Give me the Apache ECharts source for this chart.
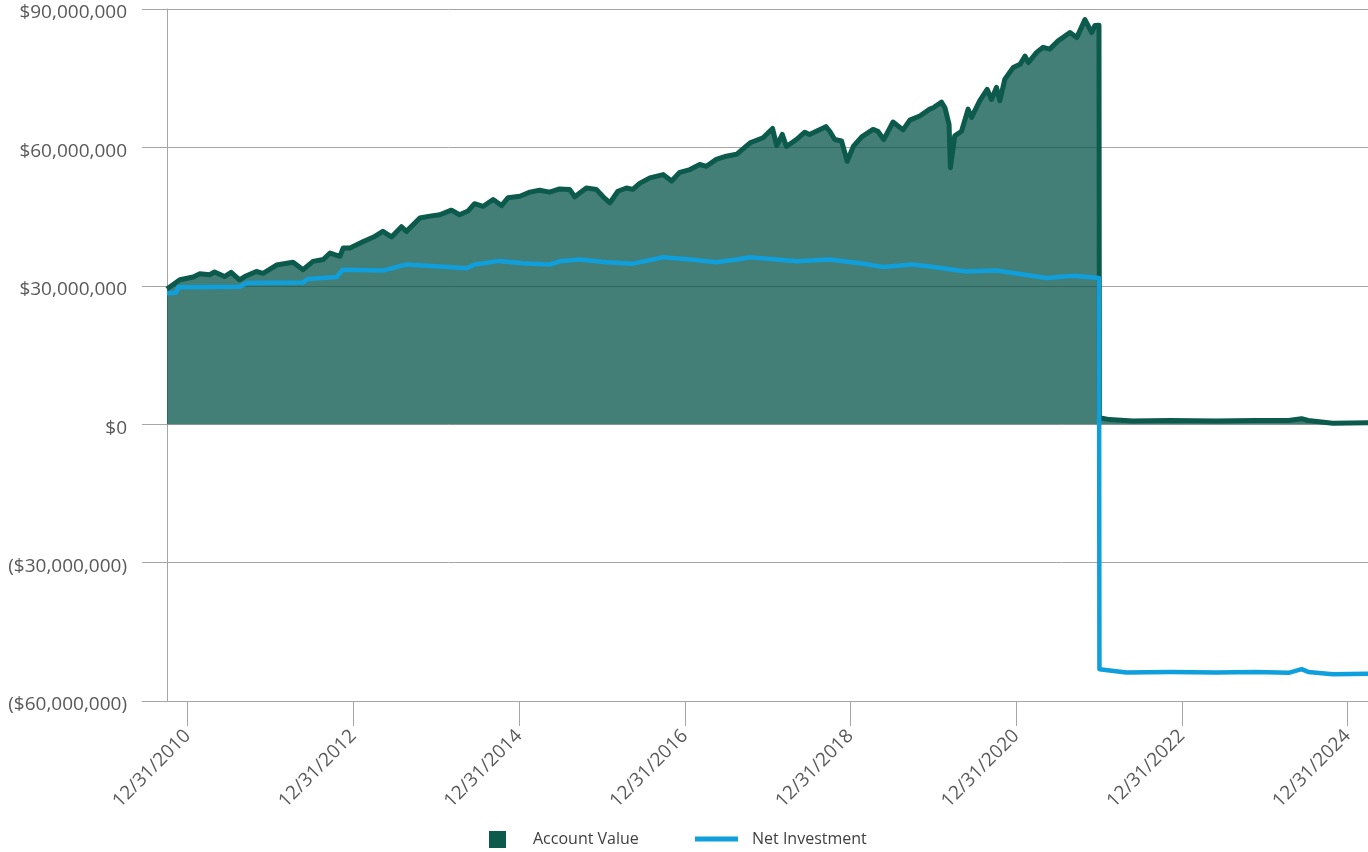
<!DOCTYPE html>
<html><head><meta charset="utf-8">
<script src="https://cdn.jsdelivr.net/npm/echarts@6/dist/echarts.min.js"></script>
<style>html,body{margin:0;padding:0;background:#fff}#c{width:1368px;height:852px}</style>
</head><body><div id="c"></div>
<script>
// Account Value (millions USD)
const accountDates = ['2010-10-01','2010-11-27','2011-01-25','2011-02-23','2011-04-07','2011-04-29','2011-06-12','2011-07-11','2011-08-17','2011-09-09','2011-10-30','2011-11-29','2012-01-27','2012-04-09','2012-05-23','2012-07-06','2012-08-20','2012-09-19','2012-11-02','2012-11-16','2012-12-16','2013-02-13','2013-04-04','2013-05-10','2013-06-17','2013-07-31','2013-08-22','2013-10-20','2013-12-03','2014-01-16','2014-03-08','2014-04-13','2014-05-20','2014-06-18','2014-07-25','2014-09-08','2014-10-15','2014-11-13','2015-01-04','2015-02-17','2015-04-01','2015-05-15','2015-06-28','2015-08-11','2015-09-03','2015-10-24','2015-12-07','2016-01-06','2016-02-05','2016-03-11','2016-04-18','2016-05-16','2016-06-15','2016-07-30','2016-09-27','2016-11-03','2016-12-09','2017-01-23','2017-03-07','2017-04-05','2017-05-19','2017-07-02','2017-08-16','2017-10-15','2017-12-11','2018-01-22','2018-02-09','2018-03-06','2018-03-24','2018-05-07','2018-06-13','2018-07-04','2018-08-03','2018-09-14','2018-10-01','2018-10-23','2018-11-22','2018-12-17','2019-01-13','2019-02-19','2019-04-10','2019-05-01','2019-05-27','2019-07-07','2019-08-20','2019-09-19','2019-11-02','2019-12-16','2019-12-31','2020-02-06','2020-02-21','2020-03-10','2020-03-16','2020-04-04','2020-05-04','2020-06-02','2020-06-17','2020-07-23','2020-08-25','2020-09-13','2020-10-05','2020-10-20','2020-11-11','2020-12-18','2021-01-17','2021-02-08','2021-02-23','2021-03-31','2021-04-29','2021-05-28','2021-07-04','2021-08-25','2021-09-24','2021-10-30','2021-11-29','2021-12-13','2021-12-31','2022-01-02','2022-02-15','2022-05-28','2022-11-10','2023-05-31','2023-11-20','2024-04-15','2024-06-11','2024-07-10','2024-10-27','2025-03-31'];
const accountValues = [29.3,31.3,31.9,32.6,32.4,33.0,32.0,32.9,31.3,32.0,33.1,32.7,34.5,35.1,33.5,35.3,35.7,37.1,36.4,38.2,38.2,39.6,40.7,41.8,40.6,42.8,41.8,44.7,45.1,45.4,46.4,45.4,46.2,47.8,47.2,48.7,47.4,49.1,49.4,50.3,50.7,50.3,51.0,50.9,49.3,51.2,50.9,49.3,48.0,50.5,51.2,50.9,52.2,53.4,54.1,52.7,54.6,55.2,56.3,55.9,57.4,58.1,58.5,61.0,62.1,64.1,60.4,62.8,60.2,61.7,63.3,62.8,63.5,64.5,63.5,61.7,61.4,57.0,60.2,62.3,63.9,63.5,61.7,65.5,63.8,65.9,66.8,68.3,68.6,69.8,68.6,65.0,55.6,62.5,63.5,68.3,66.5,70.1,72.6,70.4,73.0,70.1,74.8,77.3,78.0,79.8,78.4,80.6,81.7,81.3,83.1,84.9,83.8,87.7,84.9,86.4,86.5,1.4,1.0,0.7,0.8,0.7,0.8,0.8,1.2,0.8,0.2,0.3];

// Net Investment (millions USD)
const netDates = ['2010-10-01','2010-11-10','2010-11-20','2011-08-17','2011-09-17','2012-05-23','2012-06-14','2012-10-18','2012-11-14','2013-05-10','2013-08-19','2014-01-16','2014-05-15','2014-06-18','2014-10-08','2015-01-12','2015-05-15','2015-06-28','2015-09-25','2016-01-21','2016-05-16','2016-09-27','2017-01-23','2017-05-19','2017-08-31','2017-10-15','2018-05-07','2018-10-01','2019-02-26','2019-05-23','2019-09-25','2019-12-16','2020-05-25','2020-10-05','2021-05-13','2021-09-11','2021-12-31','2022-01-02','2022-04-30','2022-11-10','2023-05-31','2023-11-20','2024-04-15','2024-06-11','2024-07-10','2024-10-27','2025-03-31'];
const netValues = [28.4,28.5,29.7,29.8,30.6,30.7,31.5,31.9,33.5,33.3,34.6,34.2,33.8,34.6,35.4,34.9,34.6,35.3,35.7,35.1,34.8,36.2,35.7,35.1,35.8,36.2,35.3,35.7,34.8,34.1,34.6,34.2,33.1,33.3,31.7,32.2,31.7,-53.1,-53.8,-53.7,-53.8,-53.7,-53.9,-53.1,-53.7,-54.2,-54.1];

const xTickDates = ['2010-12-31','2012-12-31','2014-12-31','2016-12-31','2018-12-31','2020-12-31','2022-12-31','2024-12-31'];
const xTickLabels = ['12/31/2010','12/31/2012','12/31/2014','12/31/2016','12/31/2018','12/31/2020','12/31/2022','12/31/2024'];
const yMin = -60, yMax = 90, yStep = 30;
const startDate = '2010-10-01', endDate = '2025-03-31';

const toTs = d => Date.UTC(+d.slice(0, 4), +d.slice(5, 7) - 1, +d.slice(8, 10));
const toDay = d => Math.round((toTs(d) - toTs(startDate)) / 86400000);
const xTickDays = xTickDates.map(toDay);
const endDay = toDay(endDate);
const fmtMoney = v => {
  const s = Math.round(Math.abs(v) * 1e6).toString().replace(/\B(?=(\d{3})+(?!\d))/g, ',');
  return v < 0 ? '($' + s + ')' : '$' + s;
};
const gray = '#a6a6a6';
const font = '"Open Sans", "Noto Sans", sans-serif';

const chart = echarts.init(document.getElementById('c'), null, {renderer: 'canvas'});
chart.setOption({
  animation: false,
  backgroundColor: '#fff',
  grid: {left: 142, right: 0, top: 9, bottom: 151, containLabel: false, outerBoundsMode: 'none'},
  xAxis: {
    type: 'value',
    min: -Math.round(endDay * 25 / 1201),
    max: endDay,
    axisLine: {show: true, onZero: false, lineStyle: {color: gray, width: 1}},
    axisTick: {show: true, length: 25, customValues: xTickDays, lineStyle: {color: gray, width: 1}},
    splitLine: {show: false},
    axisLabel: {
      customValues: xTickDays,
      rotate: 45, margin: 32, fontSize: 19, color: '#595959', fontFamily: font,
      formatter: v => {
        const i = xTickDays.indexOf(Math.round(v));
        return i >= 0 ? xTickLabels[i] : '';
      }
    }
  },
  yAxis: {
    type: 'value', min: yMin, max: yMax, interval: yStep,
    axisLine: {show: true, onZero: true, lineStyle: {color: gray, width: 1}},
    axisTick: {show: false},
    splitLine: {show: true, lineStyle: {color: gray, width: 1}},
    axisLabel: {margin: 15, fontSize: 19, color: '#595959', fontFamily: font,
      verticalAlign: 'top', lineHeight: 8, formatter: fmtMoney}
  },
  legend: [
    {data: ['Account Value'], left: 484, top: 826, icon: 'rect', itemWidth: 17, itemHeight: 17,
     textStyle: {fontSize: 16, color: '#404040', fontFamily: font, padding: [0, 0, 0, 22]}},
    {data: ['Net Investment'], left: 690, top: 826, icon: 'rect', itemWidth: 43, itemHeight: 5,
     textStyle: {fontSize: 16, color: '#404040', fontFamily: font, padding: [0, 0, 0, 9]}}
  ],
  series: [
    {
      name: 'Account Value', type: 'line', showSymbol: false, symbol: 'none',
      data: accountDates.map((d, i) => [toDay(d), accountValues[i]]),
      lineStyle: {color: '#0b5a4c', width: 5, join: 'round'},
      itemStyle: {color: '#0b5a4c'},
      areaStyle: {color: '#06544a', opacity: 0.75},
      z: 2
    },
    {
      name: 'Net Investment', type: 'line', showSymbol: false, symbol: 'none',
      data: netDates.map((d, i) => [toDay(d), netValues[i]]),
      lineStyle: {color: '#0e9fdc', width: 4.5, join: 'round'},
      itemStyle: {color: '#0e9fdc'},
      z: 3
    }
  ]
});
</script></body></html>
